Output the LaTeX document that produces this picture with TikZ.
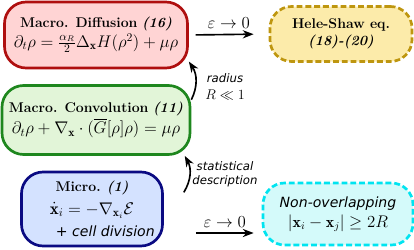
\documentclass[tikz,border=0pt]{standalone}
\usepackage{amsmath}
\usepackage{amssymb}
\usepackage{fontspec}
\newfontfamily\notefont{DejaVu Sans}
\usepackage{tikz}
\usetikzlibrary{arrows.meta,positioning,calc}
\definecolor{diffdraw}{RGB}{175,15,15}
\definecolor{difffill}{RGB}{255,212,212}
\definecolor{convdraw}{RGB}{30,135,30}
\definecolor{convfill}{RGB}{226,245,216}
\definecolor{microdraw}{RGB}{10,10,130}
\definecolor{microfill}{RGB}{212,226,255}
\definecolor{heledraw}{RGB}{190,150,15}
\definecolor{helefill}{RGB}{252,235,170}
\definecolor{nonovdraw}{RGB}{0,228,240}
\definecolor{nonovfill}{RGB}{212,250,250}
\tikzset{
	>=Stealth,
	modelbox/.style={
		rectangle,
		rounded corners=0.65cm,
		line width=2.3pt,
		inner sep=0pt,
		align=center
	},
	limitbox/.style={
		modelbox,
		dash pattern=on 5pt off 2.5pt
	},
	conn/.style={
		->,
		line width=1.4pt
	},
	note/.style={
		font=\notefont\itshape\normalsize,
		align=center,
		inner sep=1pt
	}
}

\begin{document}
\begin{tikzpicture}[
	x=0.03cm, y=-0.03cm,
	every node/.style={font=\large}
	]
	\path[use as bounding box] (0,0) rectangle (414,250);
	
	%--------------------
	% Models (left column)
	%--------------------
	\node[modelbox, draw=diffdraw, fill=difffill,
		minimum width=5.49cm, minimum height=1.98cm] (diff) at (96,35)
		{\textbf{Macro. Diffusion} \textbf{\textit{(16)}}\\[1pt]
		{\Large $\partial_t\rho = \frac{\alpha_R}{2}\Delta_{\mathbf{x}} H(\rho^2) + \mu\rho$}};
	\node[modelbox, draw=convdraw, fill=convfill,
		minimum width=5.64cm, minimum height=2.07cm] (conv) at (96,120)
		{\textbf{Macro. Convolution} \textbf{\textit{(11)}}\\[1pt]
		{\Large $\partial_t\rho + \nabla_{\mathbf{x}}\cdot(\overline{G}[\rho]\rho) = \mu\rho$}};
	\node[modelbox, draw=microdraw, fill=microfill,
		minimum width=4.23cm, minimum height=2.22cm] (micro) at (92,209)
		{\textbf{Micro.} \textbf{\textit{(1)}}\\[5pt]
		{\Large $\dot{\mathbf{x}}_i = -\nabla_{\mathbf{x}_i}\mathcal{E}$}\hspace*{0.9cm}\\[5pt]
		\hspace*{0.8cm}{\notefont\itshape + cell division}};
	
	%--------------------
	% Limits (right column)
	%--------------------
	\node[limitbox, draw=heledraw, fill=helefill,
		minimum width=4.26cm, minimum height=1.65cm] (hele) at (341,34)
		{\textbf{Hele-Shaw eq.}\\ \textbf{\textit{(18)-(20)}}};
	\node[limitbox, draw=nonovdraw, fill=nonovfill,
		minimum width=4.5cm, minimum height=1.86cm] (nonov) at (338,214)
		{{\notefont\itshape Non-overlapping}\\[3pt]
		{\fontsize{13.5}{16}\selectfont $|\mathbf{x}_i - \mathbf{x}_j| \geq 2R$}};
	
	%--------------------
	% Connections
	%--------------------
	\draw[conn, shorten <=0.2cm, shorten >=0.45cm] (diff.east) --
		node[above=1pt] {\Large $\varepsilon\to0$} (hele.west);
	\draw[conn] ([xshift=0.96cm,yshift=-0.72cm]micro.east) --
		node[above=1pt] {\Large $\varepsilon\to0$}
		([xshift=-0.24cm,yshift=-0.57cm]nonov.west);
	
	\draw[conn] (conv.12) to[bend right=30] (diff.-16);
	\node[note] (radiuslabel) at (225,87) {radius\\[3pt]{\normalfont\large $R\ll1$}};
	
	\draw[conn] ([xshift=0.6cm,yshift=0.5cm]micro.east) to[bend right=30] (conv.-22);
	\node[note] (statlabel) at (225,174) {statistical\\description};
	
\end{tikzpicture}
\end{document}
